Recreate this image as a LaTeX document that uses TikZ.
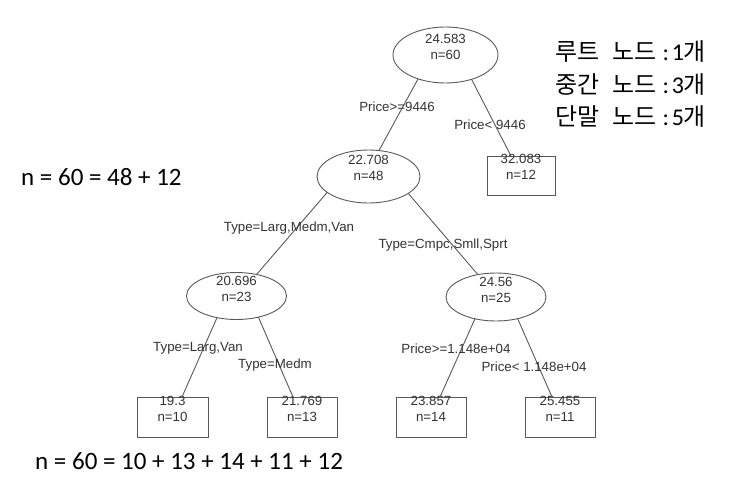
\documentclass[tikz,border=0pt]{standalone}
\usepackage{fontspec}
\setmainfont{Liberation Sans}
\newfontfamily\cjk{Noto Sans CJK KR}
\newfontfamily\calfont{Carlito}
\usetikzlibrary{shapes.geometric}
\newcommand{\twoline}[3][7pt]{\raisebox{#1}[\height][\depth]{\begin{tabular}{@{}c@{}}#2\\#3\end{tabular}}}
\newcommand{\legendtext}[3]{{\cjk #1}\kern13pt{\cjk #2}\kern6pt:\kern3pt#3\kern-1pt{\cjk 개}}
\tikzset{
  treetext/.style={font=\fontsize{13.3}{16}\selectfont, text=black!80},
  split/.style={treetext, ellipse, draw=black!65, line width=0.9pt, inner sep=0pt, outer sep=0pt},
  leafbox/.style={treetext, rectangle, draw=black!65, line width=0.9pt, inner sep=0pt, outer sep=0pt, minimum width=70pt, minimum height=40pt},
  branch/.style={draw=black!65, line width=0.9pt},
  cond/.style={treetext, inner sep=0pt},
  note/.style={font=\calfont\fontsize{25}{28}\selectfont, text=black, inner sep=0pt, anchor=base west},
  legendline/.style={font=\calfont\fontsize{24}{28}\selectfont, text=black, inner sep=0pt, anchor=base west}
}
\begin{document}
\begin{tikzpicture}[x=1pt, y=-1pt]
\useasboundingbox (0,0) rectangle (735,484);
% split nodes
\node[split, minimum width=105pt, minimum height=56pt] (root) at (445.5,55) {\twoline{24.583}{n=60}};
\node[split, minimum width=103pt, minimum height=53pt] (n48) at (368.5,176.5) {\twoline{22.708}{n=48}};
\node[split, minimum width=100pt, minimum height=47pt] (n23) at (236.5,296) {\twoline[6pt]{20.696}{n=23}};
\node[split, minimum width=100pt, minimum height=48pt] (n25) at (496,297) {\twoline[6pt]{24.56}{n=25}};
% leaves
\node[leafbox, minimum width=68pt, minimum height=39pt] (leaf12) at (521,175.5) {\twoline{32.083}{n=12}};
\node[leafbox, minimum width=71pt] (leaf10) at (172.5,417) {\twoline{19.3}{n=10}};
\node[leafbox] (leaf13) at (302,417) {\twoline{21.769}{n=13}};
\node[leafbox] (leaf14) at (431,417) {\twoline{23.857}{n=14}};
\node[leafbox] (leaf11) at (560,417) {\twoline{25.455}{n=11}};
% branches
\draw[branch] (root.221) -- (n48.68);
\draw[branch] (root.317) -- ([xshift=-10pt]leaf12.north);
\draw[branch] (n48.201) -- (n23.47);
\draw[branch] (n48.-23) -- (n25.129);
\draw[branch] (n23.228) -- ([xshift=9.5pt]leaf10.north);
\draw[branch] (n23.-44) -- ([xshift=-9pt]leaf13.north);
\draw[branch] (n25.226) -- ([xshift=9pt]leaf14.north);
\draw[branch] (n25.-45) -- ([xshift=-8pt]leaf11.north);
% conditions
\node[cond] (c1) at (397,107) {Price>=9446};
\node[cond] (c2) at (490,125) {Price< 9446};
\node[cond] (c3) at (289,228) {Type=Larg,Medm,Van};
\node[cond] (c4) at (443,245) {Type=Cmpc,Smll,Sprt};
\node[cond] (c5) at (198,348) {Type=Larg,Van};
\node[cond] (c6) at (275,365) {Type=Medm};
\node[cond] (c7) at (456,349) {Price>=1.148e+04};
\node[cond] (c8) at (534,367) {Price< 1.148e+04};
% notes
\node[note] (sum1) at (21,185) {n = 60 = 48 + 12};
\node[note] (sum2) at (35,469) {n = 60 = 10 + 13 + 14 + 11 + 12};
\node[legendline] (lg1) at (555,61) {\legendtext{루트}{노드}{1}};
\node[legendline] (lg2) at (555,94) {\legendtext{중간}{노드}{3}};
\node[legendline] (lg3) at (555,125) {\legendtext{단말}{노드}{5}};
\end{tikzpicture}
\end{document}
